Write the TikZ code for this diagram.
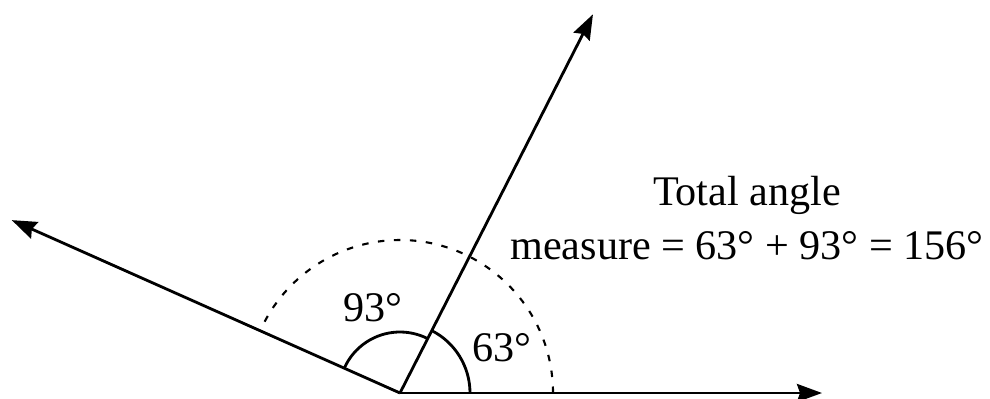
\documentclass[tikz,border=0pt]{standalone}
\usepackage{fontspec}
\setmainfont{Liberation Serif}
\usetikzlibrary{arrows.meta,calc}
\begin{document}
\begin{tikzpicture}[line width=1.6pt, font=\fontsize{24}{31}\selectfont,
  ray/.style={-{Stealth[length=0.5cm, width=0.36cm, inset=0.06cm]}},
  anglemark/.style={line width=1.6pt},
  guide/.style={line width=1.2pt, dash pattern=on 0.13cm off 0.19cm},
  lbl/.style={inner sep=0pt}]
  \useasboundingbox (0,0) rectangle (19.8,7.96);
  % vertex and ray ends, angles 0, 63, 156
  \coordinate (O) at (8.0,0.1);
  \coordinate (R) at ($(O)+(0:8.44)$);
  \coordinate (U) at ($(O)+(63:8.5)$);
  \coordinate (L) at ($(O)+(156:8.5)$);
  \draw[ray] (O) -- (R);
  \draw[ray] (O) -- (U);
  \draw[ray] (O) -- (L);
  % angle marks
  \draw[anglemark] ([shift={(0:1.4)}]O) arc (0:63:1.4);
  \draw[anglemark] ([shift={(63:1.22)}]O) arc (63:156:1.22);
  \draw[guide] ([shift={(0:3.06)}]O) arc (0:156:3.06);
  \node[lbl] (a93) at (7.46,1.8) {93°};
  \node[lbl] (a63) at (10.04,1.0) {63°};
  \node[lbl, align=center] (total) at (14.94,3.6) {Total angle\\measure = 63° + 93° = 156°};
\end{tikzpicture}
\end{document}
